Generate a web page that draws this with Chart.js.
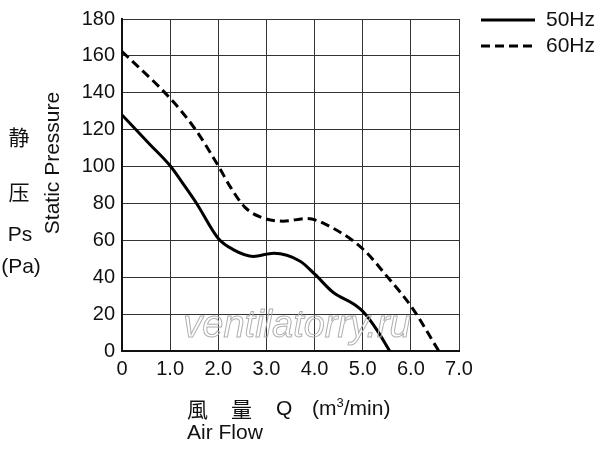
<!DOCTYPE html>
<html>
<head>
<meta charset="utf-8">
<script src="https://cdn.jsdelivr.net/npm/chart.js@4"></script>
<style>
  html, body { margin: 0; padding: 0; background: #fff; }
  canvas { display: block; }
</style>
</head>
<body>
<canvas id="chart" width="600" height="449"></canvas>
<script>
// Air flow Q (m3/min) vs static pressure Ps (Pa)
const flow50     = [0, 0.58, 1.0, 1.3, 1.55, 2.0, 2.31, 2.73, 3.15, 3.7, 4.01, 4.39, 4.81, 5.02, 5.3, 5.56]
const pressure50 = [128, 112, 100.4, 89.5, 80, 61, 55, 51.3, 53, 48.7, 41.5, 31.7, 25.5, 21, 11.2, 0]

const flow60     = [0, 1.0, 1.52, 2.0, 2.25, 2.55, 2.87, 3.35, 3.84, 4.39, 5.02, 5.5, 6.02, 6.58]
const pressure60 = [162.4, 137, 120.3, 100.4, 89, 78, 72.7, 70.4, 71.8, 66.5, 54.9, 40.6, 23.7, 0]

const seriesLabels = ["50Hz", "60Hz"]
const xTicks = [0, 1, 2, 3, 4, 5, 6, 7]

const FONT = "'Liberation Sans', Arial, sans-serif"
const CJK  = "'Noto Sans CJK SC', 'Noto Sans CJK JP', sans-serif"

const toPoints = (xs, ys) => xs.map((x, i) => ({ x, y: ys[i] }))

// Extra text: side labels, axis title, legend, watermark
const decorations = {
  id: "decorations",
  afterDraw(chart) {
    const ctx = chart.ctx
    ctx.save()
    ctx.fillStyle = "#111"
    ctx.textBaseline = "middle"

    // left labels
    ctx.textAlign = "center"
    ctx.font = `21px ${CJK}`
    ctx.fillText("静", 19, 137)
    ctx.fillText("压", 19, 192)
    ctx.font = `21px ${FONT}`
    ctx.fillText("Ps", 20, 235)
    ctx.fillText("(Pa)", 21, 267)

    // rotated title
    ctx.save()
    ctx.translate(53, 163)
    ctx.rotate(-Math.PI / 2)
    ctx.font = `21px ${FONT}`
    ctx.fillText("Static Pressure", 0, 0)
    ctx.restore()

    // bottom axis title
    ctx.textAlign = "left"
    ctx.font = `21px ${CJK}`
    ctx.fillText("風", 187, 409)
    ctx.fillText("量", 231, 409)
    ctx.font = `21px ${FONT}`
    ctx.fillText("Q", 276, 409)
    ctx.fillText("(m", 312, 409)
    const w = ctx.measureText("(m").width
    ctx.font = `13px ${FONT}`
    ctx.fillText("3", 312 + w, 403)
    const w3 = ctx.measureText("3").width
    ctx.font = `21px ${FONT}`
    ctx.fillText("/min)", 312 + w + w3, 409)
    ctx.fillText("Air Flow", 187, 433)

    // legend
    chart.data.datasets.forEach((ds, i) => {
      const y = 20 + i * 26
      ctx.beginPath()
      ctx.lineWidth = ds.borderWidth
      ctx.strokeStyle = ds.borderColor
      ctx.setLineDash(ds.borderDash || [])
      ctx.moveTo(481, y)
      ctx.lineTo(535, y)
      ctx.stroke()
      ctx.setLineDash([])
      ctx.font = `21px ${FONT}`
      ctx.fillText(ds.label, 546, y)
    })

    // watermark
    ctx.font = `italic 38px ${FONT}`
    ctx.textAlign = "center"
    ctx.lineWidth = 1
    ctx.strokeStyle = "#b0b0b0"
    ctx.strokeText("ventilatorry.ru", 297, 326)
    ctx.restore()
  },
}

const solid = {
  label: seriesLabels[0],
  data: toPoints(flow50, pressure50),
  borderColor: "#000",
  borderWidth: 3,
  showLine: true,
  pointRadius: 0,
  cubicInterpolationMode: "monotone",
}
const dashed = {
  label: seriesLabels[1],
  data: toPoints(flow60, pressure60),
  borderColor: "#000",
  borderWidth: 3,
  borderDash: [9, 5],
  showLine: true,
  pointRadius: 0,
  cubicInterpolationMode: "monotone",
}

new Chart(document.getElementById("chart"), {
  type: "scatter",
  data: { datasets: [solid, dashed] },
  options: {
    responsive: false,
    animation: false,
    layout: { padding: { top: 15, right: 141, left: 0, bottom: 0 } },
    plugins: { legend: { display: false }, tooltip: { enabled: false } },
    scales: {
      x: {
        type: "linear",
        min: 0,
        max: 7,
        afterBuildTicks: (scale) => { scale.ticks = xTicks.map(v => ({ value: v })) },
        afterFit: (scale) => { scale.height = 98 },
        ticks: {
          color: "#111",
          padding: 6,
          font: { family: FONT, size: 20 },
          callback: (v) => v === 0 ? "0" : v.toFixed(1),
          maxRotation: 0,
        },
        grid: { color: "#333", lineWidth: 1, drawTicks: false },
        border: { color: "#111", width: 2 },
      },
      y: {
        min: 0,
        max: 180,
        afterFit: (scale) => { scale.width = 122 },
        ticks: {
          stepSize: 20,
          color: "#111",
          padding: 7,
          font: { family: FONT, size: 20 },
        },
        grid: { color: "#333", lineWidth: 1, drawTicks: false },
        border: { color: "#111", width: 2 },
      },
    },
  },
  plugins: [decorations],
})
</script>
</body>
</html>
